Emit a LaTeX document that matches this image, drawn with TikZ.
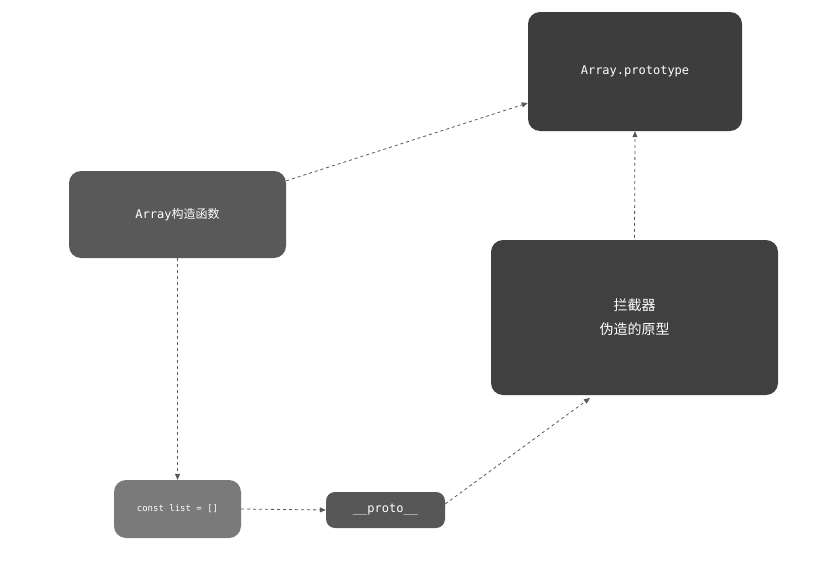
\documentclass[tikz,border=0pt]{standalone}
\usepackage{fontspec}
\setmonofont{DejaVu Sans Mono}
\newfontfamily\cjk{Noto Sans CJK SC}
\usetikzlibrary{arrows.meta}
\begin{document}
\begin{tikzpicture}[x=1pt,y=-1pt,
  box/.style={rounded corners=12pt,text=white,inner sep=0pt,font=\ttfamily},
  conn/.style={draw=black!65,dashed,line width=0.8pt,-{Triangle[length=6pt,width=5pt]}}]
\useasboundingbox (0,0) rectangle (839,565);
\fill[white] (0,0) rectangle (839,565);
\node[box,fill=black!76,minimum width=214pt,minimum height=119pt,font=\ttfamily\fontsize{12}{14}\selectfont] (proto) at (635,71.5) {Array.prototype};
\node[box,fill=black!65,minimum width=217pt,minimum height=87pt,font=\ttfamily\fontsize{12}{14}\selectfont] (ctor) at (177.5,214.5) {Array{\cjk 构造函数}};
\node[box,fill=black!75,minimum width=287pt,minimum height=155pt,align=center,font=\cjk\fontsize{14}{24}\selectfont] (intc) at (634.5,317.5) {拦截器\\伪造的原型};
\node[box,fill=black!52,minimum width=127pt,minimum height=58pt,font=\ttfamily\fontsize{9}{11}\selectfont] (list) at (177.5,509) {const list = []};
\node[box,fill=black!66,rounded corners=9pt,minimum width=119pt,minimum height=36pt,font=\ttfamily\fontsize{12}{14}\selectfont] (pr) at (385.5,510) {\_\_proto\_\_};
\draw[conn] (ctor.north east)++(0,10) -- (proto.west |- 0,103);
\draw[conn] (ctor.south) -- (list.north);
\draw[conn] (list.east) -- (pr.west);
\draw[conn] (pr.east)++(0,-6) -- (590,398);
\draw[conn] (intc.north) ++(0,-2) -- (proto.south);
\end{tikzpicture}
\end{document}
